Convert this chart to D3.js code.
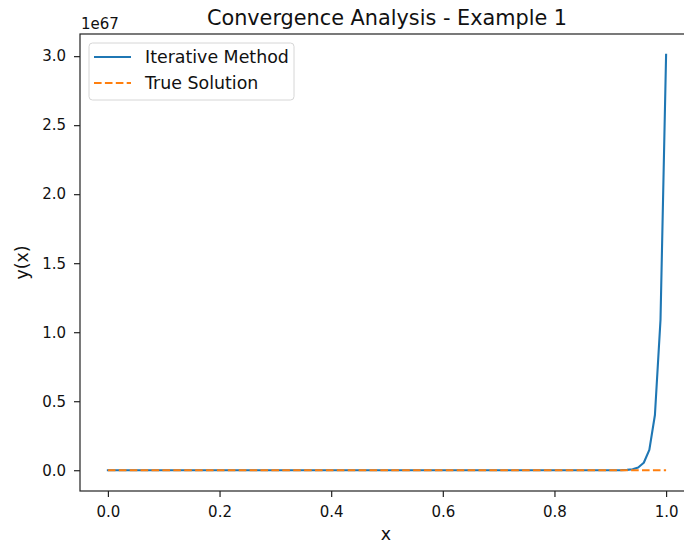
<!DOCTYPE html>
<html>
<head>
<meta charset="utf-8">
<script src="https://cdn.jsdelivr.net/npm/d3@7"></script>
<style>
  html, body { margin: 0; padding: 0; background: #fff; }
  svg { display: block; font-family: "DejaVu Sans", sans-serif; }
</style>
</head>
<body>
<svg id="chart" width="684" height="545"></svg>
<script>
const title = "Convergence Analysis - Example 1";
const xLabel = "x";
const yLabel = "y(x)";
const seriesNames = ["Iterative Method", "True Solution"];
const xValues = [
  0.00,0.01,0.02,0.03,0.04,0.05,0.06,0.07,0.08,0.09,
  0.10,0.11,0.12,0.13,0.14,0.15,0.16,0.17,0.18,0.19,
  0.20,0.21,0.22,0.23,0.24,0.25,0.26,0.27,0.28,0.29,
  0.30,0.31,0.32,0.33,0.34,0.35,0.36,0.37,0.38,0.39,
  0.40,0.41,0.42,0.43,0.44,0.45,0.46,0.47,0.48,0.49,
  0.50,0.51,0.52,0.53,0.54,0.55,0.56,0.57,0.58,0.59,
  0.60,0.61,0.62,0.63,0.64,0.65,0.66,0.67,0.68,0.69,
  0.70,0.71,0.72,0.73,0.74,0.75,0.76,0.77,0.78,0.79,
  0.80,0.81,0.82,0.83,0.84,0.85,0.86,0.87,0.88,0.89,
  0.90,0.91,0.92,0.93,0.94,0.95,0.96,0.97,0.98,0.99,
  1.00
];
const iterativeValues = [
  0,0,0,0,0,0,0,0,0,0,
  0,0,0,0,0,0,0,0,0,0,
  0,0,0,0,0,0,0,0,0,0,
  0,0,0,0,0,0,0,0,0,0,
  0,0,0,0,0,0,0,0,0,0,
  0,0,0,0,0,0,0,0,0,0,
  0,0,0,0,0,0,0,0,0,0,
  0,0,0,0,0,0,0,0,0,0,
  0,0,0,0,0,0,0,0,0,0,
  1.4e63,3.7e63,1.0e64,2.7e64,7.3e64,2.0e65,5.4e65,1.47e66,4.0e66,1.09e67,
  3.01e67
];
const trueValues = [
  0,0,0,0,0,0,0,0,0,0,
  0,0,0,0,0,0,0,0,0,0,
  0,0,0,0,0,0,0,0,0,0,
  0,0,0,0,0,0,0,0,0,0,
  0,0,0,0,0,0,0,0,0,0,
  0,0,0,0,0,0,0,0,0,0,
  0,0,0,0,0,0,0,0,0,0,
  0,0,0,0,0,0,0,0,0,0,
  0,0,0,0,0,0,0,0,0,0,
  0,0,0,0,0,0,0,0,0,0,
  0
];
const xTicks = [0.0, 0.2, 0.4, 0.6, 0.8, 1.0];
const yTicks = [0.0, 0.5, 1.0, 1.5, 2.0, 2.5, 3.0];
const yExponent = 67;

const svg = d3.select("#chart");
const plot = { left: 80, right: 694, top: 34, bottom: 491 };
const colors = ["#1f77b4", "#ff7f0e"];
const tickFont = "15px";
const labelFont = "17.4px";

const yMax = d3.max(iterativeValues);
const xPad = 0.05 * (d3.max(xValues) - d3.min(xValues));
const yPad = 0.05 * yMax;
const x = d3.scaleLinear().domain([d3.min(xValues) - xPad, d3.max(xValues) + xPad]).range([plot.left, plot.right]);
const y = d3.scaleLinear().domain([-yPad, yMax + yPad]).range([plot.bottom, plot.top]);
const scaleFactor = Math.pow(10, yExponent);

svg.append("defs").append("clipPath").attr("id", "clip")
  .append("rect").attr("x", plot.left).attr("y", plot.top)
  .attr("width", plot.right - plot.left).attr("height", plot.bottom - plot.top);

const line = d3.line().x(d => x(d[0])).y(d => y(d[1]));
const g = svg.append("g").attr("clip-path", "url(#clip)");
g.append("path")
  .datum(xValues.map((v, i) => [v, iterativeValues[i]]))
  .attr("d", line).attr("fill", "none").attr("stroke", colors[0])
  .attr("stroke-width", 2.1).attr("stroke-linejoin", "round").attr("stroke-linecap", "square");
g.append("path")
  .datum(xValues.map((v, i) => [v, trueValues[i]]))
  .attr("d", line).attr("fill", "none").attr("stroke", colors[1])
  .attr("stroke-width", 2.1).attr("stroke-dasharray", "7.6,3.3");

// axes
const xAxis = d3.axisBottom(x).tickValues(xTicks).tickFormat(d3.format(".1f")).tickSizeInner(6).tickSizeOuter(0).tickPadding(9.5);
const yAxis = d3.axisLeft(y).tickValues(yTicks.map(t => t * scaleFactor)).tickFormat(d => d3.format(".1f")(d / scaleFactor)).tickSizeInner(6).tickSizeOuter(0).tickPadding(8);

const gx = svg.append("g").attr("transform", `translate(0,${plot.bottom})`).call(xAxis);
const gy = svg.append("g").attr("transform", `translate(${plot.left},0)`).call(yAxis);
[gx, gy].forEach(a => {
  a.select(".domain").remove();
  a.selectAll(".tick line").attr("stroke", "#222").attr("stroke-width", 1.2);
  a.selectAll(".tick text").attr("fill", "#111").style("font-size", tickFont).style("font-family", "DejaVu Sans");
});

// spines
svg.append("rect").attr("x", plot.left).attr("y", plot.top)
  .attr("width", plot.right - plot.left).attr("height", plot.bottom - plot.top)
  .attr("fill", "none").attr("stroke", "#222").attr("stroke-width", 1.2);

// texts
svg.append("text").attr("x", (plot.left + plot.right) / 2).attr("y", 25)
  .attr("text-anchor", "middle").attr("fill", "#111").style("font-size", "20.8px").text(title);
svg.append("text").attr("x", 386).attr("y", 540)
  .attr("text-anchor", "middle").attr("fill", "#111").style("font-size", labelFont).text(xLabel);
svg.append("text").attr("transform", `translate(28,${(plot.top + plot.bottom) / 2}) rotate(-90)`)
  .attr("text-anchor", "middle").attr("fill", "#111").style("font-size", labelFont).text(yLabel);
svg.append("text").attr("x", 81).attr("y", 29).attr("fill", "#111")
  .style("font-size", tickFont).text("1e" + yExponent);

// legend
const lg = svg.append("g");
lg.append("rect").attr("x", 89).attr("y", 43).attr("width", 205).attr("height", 57)
  .attr("rx", 3.5).attr("fill", "#fff").attr("fill-opacity", 0.8).attr("stroke", "#d6d6d6").attr("stroke-width", 1);
seriesNames.forEach((name, i) => {
  const yy = 57 + i * 26;
  lg.append("line").attr("x1", 94).attr("x2", 131).attr("y1", yy).attr("y2", yy)
    .attr("stroke", colors[i]).attr("stroke-width", 2.1)
    .attr("stroke-dasharray", i === 1 ? "7.6,3.3" : null);
  lg.append("text").attr("x", 145).attr("y", yy + 6).attr("fill", "#111").style("font-size", labelFont).text(name);
});
</script>
</body>
</html>
